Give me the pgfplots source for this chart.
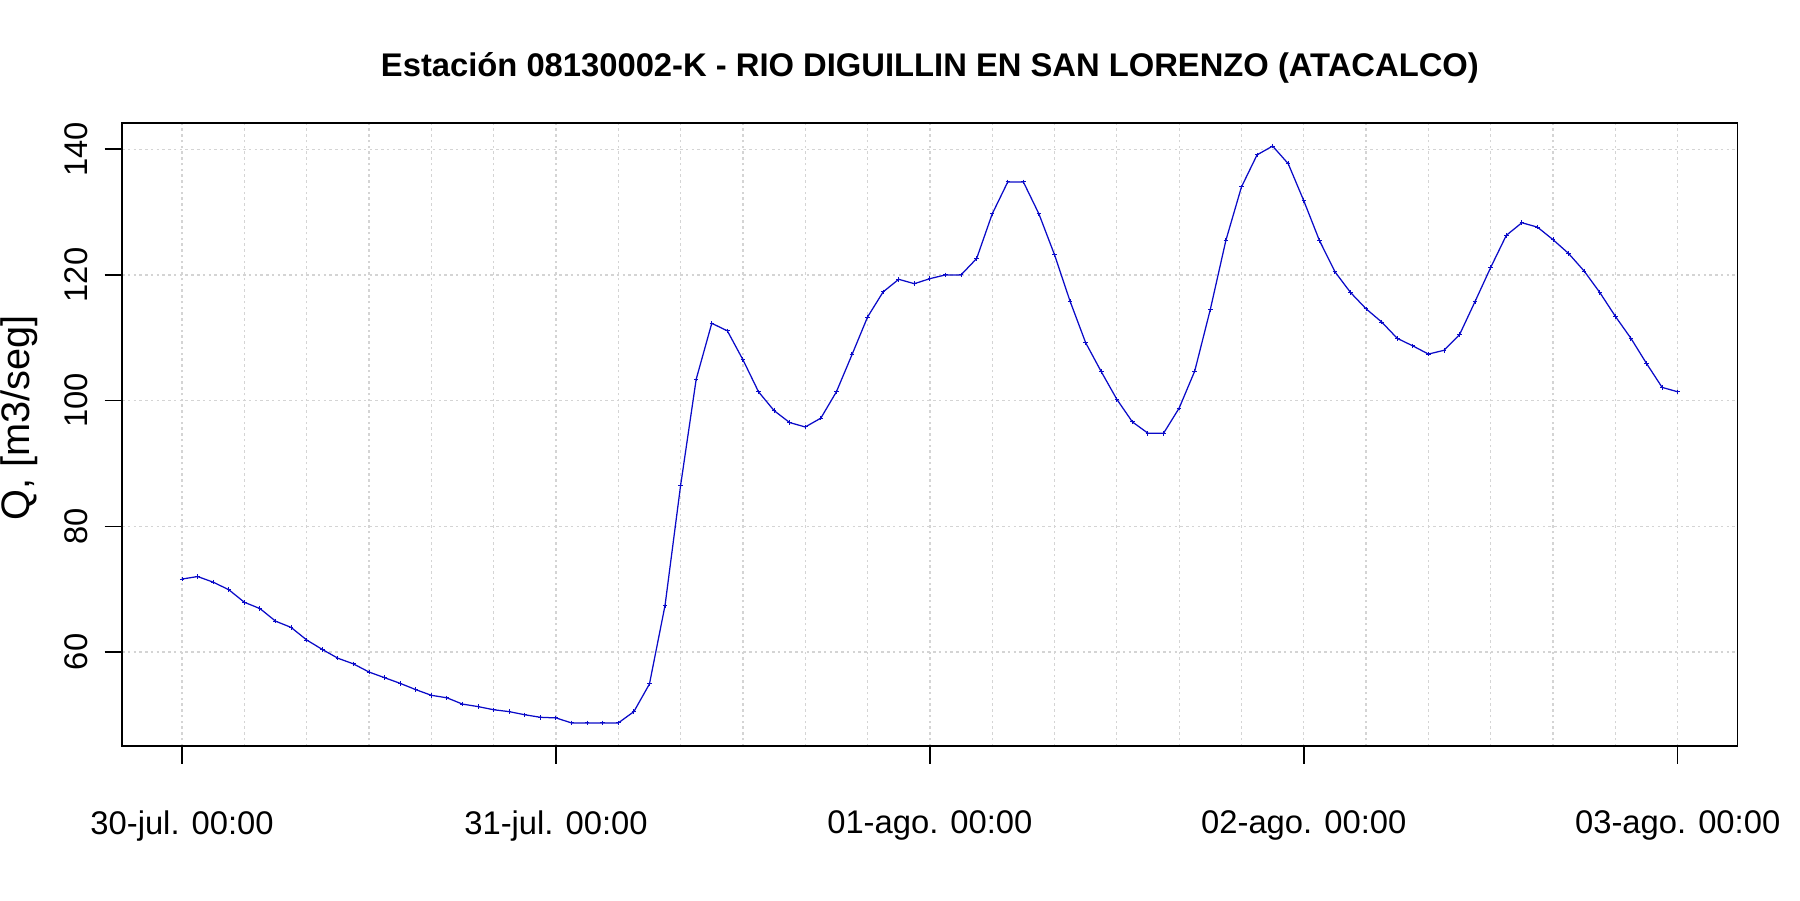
\documentclass[border=0pt]{standalone}
\usepackage{fontspec}
\setmainfont{Liberation Sans}
\usepackage{pgfplots}
\usepackage{pgfplotstable}
\pgfplotsset{compat=1.18}

\definecolor{linea}{RGB}{10,10,200}
\definecolor{grilla}{RGB}{212,212,212}

% caudal horario, hora 0 = 30-jul. 00:00
\pgfplotstableread{
hora  q
0   71.6
1   72.0
2   71.1
3   69.9
4   67.9
5   66.9
6   64.9
7   63.9
8   61.9
9   60.4
10  59.0
11  58.1
12  56.8
13  55.9
14  55.0
15  54.0
16  53.1
17  52.7
18  51.7
19  51.3
20  50.8
21  50.5
22  50.0
23  49.6
24  49.5
25  48.7
26  48.7
27  48.7
28  48.7
29  50.5
30  54.9
31  67.4
32  86.5
33  103.4
34  112.3
35  111.1
36  106.5
37  101.4
38  98.4
39  96.5
40  95.8
41  97.2
42  101.4
43  107.3
44  113.3
45  117.3
46  119.3
47  118.6
48  119.4
49  120.0
50  120.0
51  122.6
52  129.7
53  134.8
54  134.8
55  129.7
56  123.2
57  115.8
58  109.2
59  104.6
60  100.2
61  96.6
62  94.8
63  94.8
64  98.8
65  104.7
66  114.5
67  125.5
68  134.0
69  139.1
70  140.5
71  137.7
72  131.8
73  125.5
74  120.5
75  117.2
76  114.6
77  112.5
78  109.9
79  108.7
80  107.4
81  108.0
82  110.5
83  115.8
84  121.2
85  126.3
86  128.3
87  127.6
88  125.6
89  123.4
90  120.6
91  117.2
92  113.4
93  109.9
94  105.9
95  102.1
96  101.4
}\caudal

\begin{document}
\begin{tikzpicture}[x=1pt,y=1pt]
  \useasboundingbox (0,0) rectangle (720,360);
  \begin{axis}[
    at={(48.9pt,61.6pt)}, anchor=south west,
    scale only axis, width=646.1pt, height=249.2pt,
    xmin=-3.84, xmax=99.84, ymin=45.03, ymax=144.17,
    xtick={0,24,...,96},
    xticklabels={30-jul. 00:00, 31-jul. 00:00, 01-ago. 00:00, 02-ago. 00:00, 03-ago. 00:00},
    minor xtick={0,4,...,96},
    ytick={60,80,...,140},
    xmajorgrids=false, xminorgrids=true, ymajorgrids=true,
    grid style={grilla, dash pattern=on 1pt off 1.3pt, line width=0.5pt},
    tick align=outside,
    xtick pos=left, ytick pos=left,
    major tick length=7pt, minor tick length=0pt,
    tick style={black, line width=0.6pt},
    axis line style={line width=0.6pt},
    tick label style={font=\fontsize{13.1}{15}\selectfont},
    /pgf/number format/assume math mode=true,
    xticklabel style={yshift=-15.5pt},
    yticklabel style={xshift=-11.5pt, rotate=90, anchor=center},
    every axis title/.style={at={(0.5,1)}, anchor=center, yshift=22pt,
      font=\bfseries\fontsize{13.1}{15}\selectfont},
    title={Estación 08130002-K - RIO DIGUILLIN EN SAN LORENZO (ATACALCO)},
    every axis y label/.style={at={(axis description cs:-0.064,0.527)},
      rotate=90, anchor=center, font=\fontsize{15.9}{18}\selectfont},
    ylabel={Q, [m3/seg]},
  ]
    \addplot[linea, line width=0.5pt, mark=+, mark size=0.9pt,
      mark options={line width=0.4pt}] table[x=hora, y=q] {\caudal};
  \end{axis}
\end{tikzpicture}
\end{document}
